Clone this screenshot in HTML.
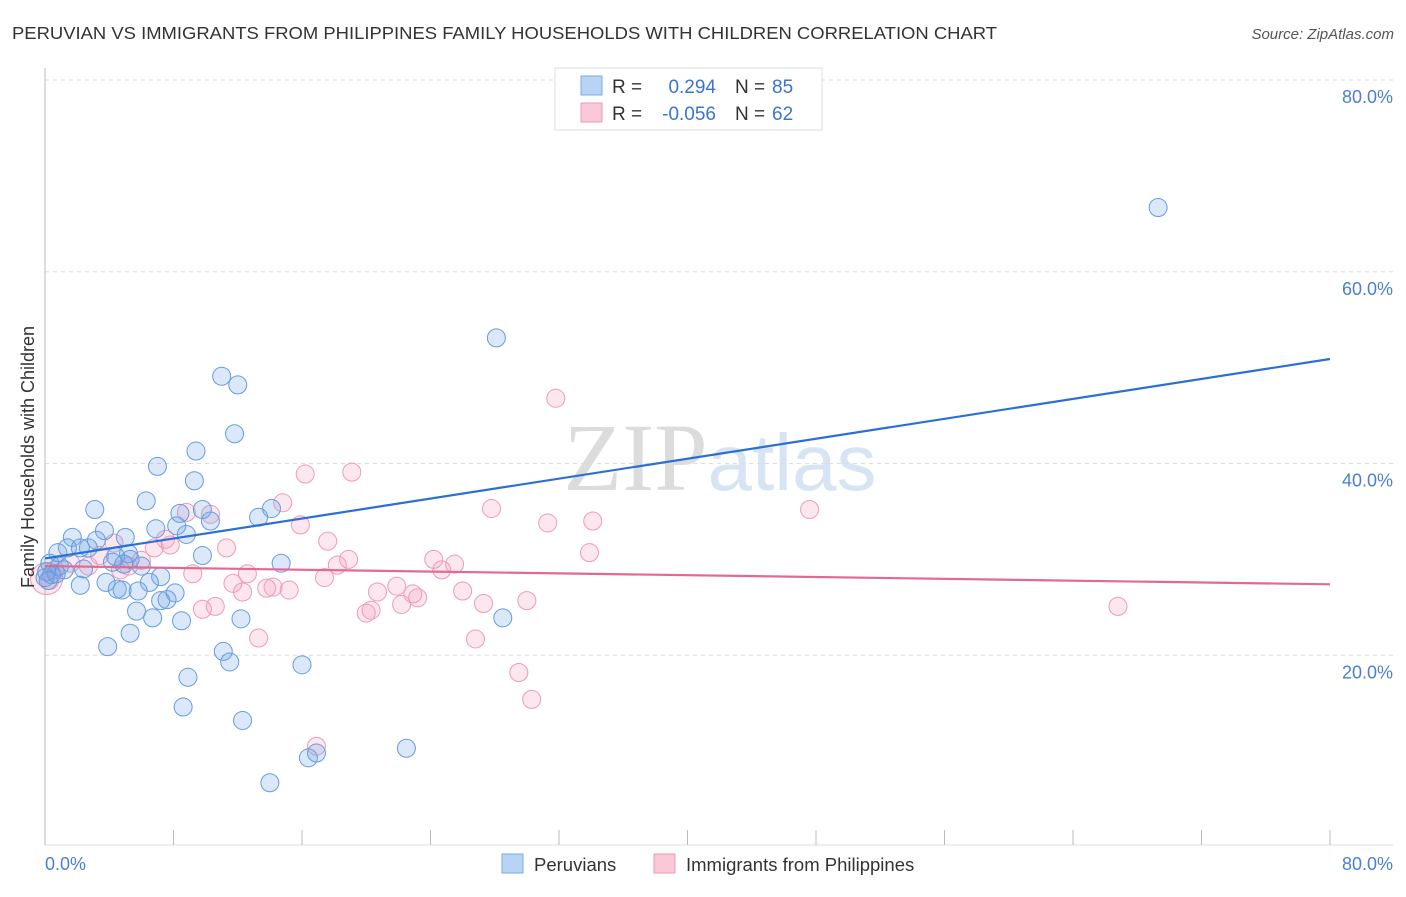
<!DOCTYPE html>
<html><head><meta charset="utf-8"><style>
body{margin:0;background:#fff;font-family:"Liberation Sans",sans-serif;}
svg text{font-family:"Liberation Sans",sans-serif;}
</style></head><body>
<svg id="chart" width="1406" height="892" xmlns="http://www.w3.org/2000/svg">
<text x="12" y="39" font-size="17.5" fill="#333" textLength="985" lengthAdjust="spacingAndGlyphs">PERUVIAN VS IMMIGRANTS FROM PHILIPPINES FAMILY HOUSEHOLDS WITH CHILDREN CORRELATION CHART</text>
<text x="1394" y="39" font-size="15" fill="#555" text-anchor="end" font-style="italic">Source: ZipAtlas.com</text>
<text x="720" y="490" font-size="96" text-anchor="middle" fill="#e4e4e4"><tspan font-family="Liberation Serif" fill="#dcdcdc">ZIP</tspan><tspan fill="#d6e4f4" font-size="80">atlas</tspan></text>
<g id="grid"></g>
<g id="axes"></g>
<g id="pink"></g>
<g id="blue"></g>
<g id="lines"></g>
<text transform="translate(34,457) rotate(-90)" font-size="18" fill="#333" text-anchor="middle">Family Households with Children</text>
<text x="45" y="870" font-size="18" fill="#4a7fd4">0.0%</text>
<text x="1393" y="870" font-size="18" fill="#4a7fd4" text-anchor="end">80.0%</text>
<g>
<rect x="555" y="68" width="267" height="62" fill="#fff" stroke="#ddd"/>
<rect x="581" y="76" width="21" height="19" fill="#b9d3f5" stroke="#7aa8e6"/>
<text x="612" y="93" font-size="19" fill="#333">R =</text><text x="716" y="93" font-size="19" fill="#3a74d0" text-anchor="end">0.294</text>
<text x="735" y="93" font-size="19" fill="#333">N =</text><text x="772" y="93" font-size="19" fill="#3a74d0">85</text>
<rect x="581" y="103" width="21" height="19" fill="#f9c9d7" stroke="#eb9ab4"/>
<text x="612" y="120" font-size="19" fill="#333">R =</text><text x="716" y="120" font-size="19" fill="#3a74d0" text-anchor="end">-0.056</text>
<text x="735" y="120" font-size="19" fill="#333">N =</text><text x="772" y="120" font-size="19" fill="#3a74d0">62</text>
</g>
<g>
<rect x="502" y="854" width="21" height="19" fill="#b9d3f5" stroke="#7aa8e6"/>
<text x="534" y="871" font-size="18.5" fill="#333">Peruvians</text>
<rect x="654" y="854" width="21" height="19" fill="#f9c9d7" stroke="#eb9ab4"/>
<text x="686" y="871" font-size="18.5" fill="#333">Immigrants from Philippines</text>
</g>
</svg>
<script>
const yTicks=[20,40,60,80];
const yTickLabels=["20.0%","40.0%","60.0%","80.0%"];
const xTicks=[0,8,16,24,32,40,48,56,64,72,80];
const blueX=[69.3,28.1,11.0,12.0,11.8,9.4,7.0,9.3,3.1,6.3,9.8,14.1,8.4,10.3,13.3,6.9,8.2,8.8,3.7,1.7,5.0,3.2,1.4,0.8,2.2,2.7,9.8,5.2,4.4,5.3,14.7,6.0,0.3,0.9,4.2,4.9,2.4,1.2,0.4,0.2,0.7,7.2,6.5,3.8,2.2,5.8,8.1,4.5,4.8,7.2,7.6,5.7,6.7,8.5,12.2,28.5,5.3,3.9,11.1,11.5,16.0,8.9,8.6,12.3,22.5,16.4,16.9,14.0,0.0,0.1];
const blueY=[66.7,53.1,49.1,48.2,43.1,41.3,39.7,38.2,35.2,36.1,35.2,35.3,34.8,34.0,34.4,33.2,33.5,32.6,33.0,32.3,32.3,32.0,31.2,30.7,31.2,31.2,30.4,30.6,30.3,30.0,29.6,29.3,29.6,29.3,29.7,29.5,29.0,28.9,28.4,27.8,28.5,28.2,27.6,27.6,27.3,26.7,26.5,26.9,26.8,25.7,25.8,24.6,23.9,23.6,23.8,23.9,22.3,20.9,20.4,19.3,19.0,17.7,14.6,13.2,10.3,9.3,9.8,6.7,28.1,28.7];
const pinkX=[31.8,16.2,19.1,14.8,27.8,47.6,8.8,10.3,15.9,31.3,34.1,17.6,11.3,7.8,4.3,6.8,7.5,33.9,3.4,18.9,24.2,25.5,18.2,5.2,24.7,2.7,1.6,9.2,17.4,12.6,11.7,14.2,21.9,20.7,15.2,26.0,13.8,12.3,22.9,23.2,22.2,27.3,30.0,10.6,9.8,20.3,20.0,13.3,26.8,66.8,29.5,30.3,16.9,0.3,0.6,4.7,6.0];
const pinkY=[46.8,38.9,39.1,35.9,35.3,35.2,34.9,34.7,33.6,33.8,34.0,31.9,31.2,31.5,31.7,31.2,32.1,30.7,30.4,30.0,30.0,29.5,29.4,29.3,28.9,29.3,29.6,28.5,28.1,28.5,27.5,27.1,27.2,26.6,26.8,26.7,27.0,26.6,26.4,26.0,25.3,25.4,25.7,25.1,24.8,24.7,24.4,21.8,21.7,25.1,18.2,15.4,10.5,27.8,28.9,28.9,29.9];
const blueTrend=[30.1,50.9];
const pinkTrend=[29.3,27.4];
const NS="http://www.w3.org/2000/svg";
const X=v=>45+v*(1285/80);
const Y=v=>847-v*(767/80);
function mk(tag,attrs,parent){const e=document.createElementNS(NS,tag);for(const k in attrs)e.setAttribute(k,attrs[k]);document.getElementById(parent).appendChild(e);return e;}
yTicks.forEach((t,i)=>{
 const g=mk('line',{x1:45,x2:1393,y1:Y(t),y2:Y(t),stroke:'#ddd','stroke-dasharray':'4,4'},'grid');
 
 
 const l=mk('text',{x:1393,y:Y(t)+23,'font-size':18,fill:'#4a7fd4','text-anchor':'end'},'grid');
 l.textContent=yTickLabels[i];
 
 
});
const ax=mk('line',{x1:45,x2:45,y1:68,y2:845,stroke:'#bbb'},'axes');


const bx=mk('line',{x1:45,x2:1393,y1:845,y2:845,stroke:'#ddd'},'axes');


xTicks.forEach(t=>{
 const k=mk('line',{x1:X(t),x2:X(t),y1:830,y2:845,stroke:'#bbb'},'axes');
 
 
});
pinkX.forEach((v,i)=>{
 const c=mk('circle',{cx:X(v),cy:Y(pinkY[i]),r:9,fill:'rgba(244,160,188,0.25)',stroke:'#ef9ab6','stroke-width':1},'pink');
 
 
});
const big=mk('circle',{cx:X(0.1),cy:Y(28),r:16,fill:'rgba(244,160,188,0.25)',stroke:'#ef9ab6','stroke-width':1},'pink');


blueX.forEach((v,i)=>{
 const c=mk('circle',{cx:X(v),cy:Y(blueY[i]),r:9,fill:'rgba(110,165,230,0.25)',stroke:'#669ce0','stroke-width':1},'blue');
 
 
});
const bl=mk('line',{x1:X(0),x2:X(80),y1:Y(blueTrend[0]),y2:Y(blueTrend[1]),stroke:'#2a6fd6','stroke-width':2.2},'lines');


const pl=mk('line',{x1:X(0),x2:X(80),y1:Y(pinkTrend[0]),y2:Y(pinkTrend[1]),stroke:'#e4688f','stroke-width':2.2},'lines');


</script>
</body></html>
